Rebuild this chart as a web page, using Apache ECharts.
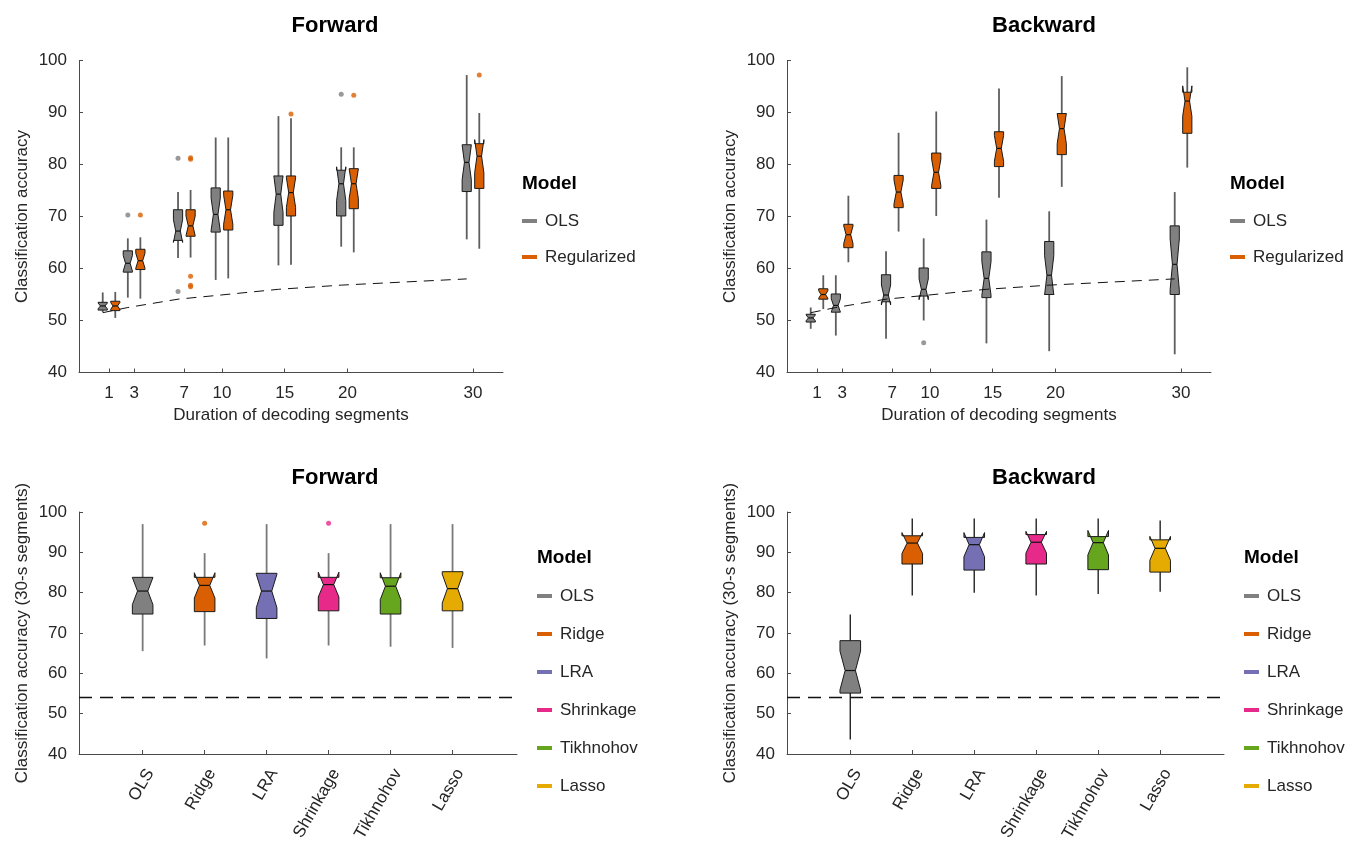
<!DOCTYPE html>
<html>
<head>
<meta charset="utf-8">
<title>Classification accuracy</title>
<script src="https://cdn.jsdelivr.net/npm/echarts@6/dist/echarts.min.js"></script>
<style>
html,body{margin:0;padding:0;background:#fff;}
#main{width:1350px;height:846px;}
</style>
</head>
<body>
<div id="main"></div>
<script>
// durations of decoding segments (s)
let durations = [1, 3, 7, 10, 15, 20, 30];
// box rows: [low whisker, q1, median, q3, high whisker]
let fwdOls = [[51.6,52.0,52.8,53.5,55.4],[54.4,59.3,61.0,63.4,65.8],[62.0,65.4,67.2,71.3,74.7],[57.8,67.0,70.4,75.5,85.2],[60.6,68.3,74.3,77.8,89.3],[64.2,70.1,76.3,78.9,83.3],[65.6,74.8,80.4,83.8,97.2]];
let fwdReg = [[50.5,51.9,52.8,53.7,55.5],[54.2,59.8,61.5,63.7,66.0],[62.1,66.2,68.2,71.3,75.1],[58.1,67.4,71.3,74.9,85.2],[60.7,70.1,74.6,77.8,88.9],[63.1,71.5,76.3,79.2,83.3],[63.8,75.4,81.6,84.0,89.9]];
let fwdOlsOut = [[3,70.3],[7,81.2],[7,55.6],[20,93.5]];
let fwdRegOut = [[3,70.3],[7,81.3],[7,81.0],[7,58.5],[7,56.8],[7,56.5],[15,89.7],[20,93.3],[30,97.2]];
let bwdOls = [[48.4,49.7,50.5,51.2,52.5],[47.1,51.6,52.9,55.1,58.7],[46.5,53.6,54.9,58.8,63.3],[50.0,54.7,56.0,60.1,65.8],[45.6,54.4,58.1,63.2,69.4],[44.1,55.0,58.7,65.2,71.0],[43.5,55.0,60.8,68.2,74.7]];
let bwdReg = [[52.2,54.1,55.0,56.1,58.7],[61.2,64.0,66.5,68.5,74.0],[67.1,71.7,74.7,77.9,86.1],[70.1,75.4,78.5,82.2,90.2],[73.6,79.6,83.1,86.3,94.6],[75.7,81.9,86.9,89.8,97.0],[79.4,86.0,92.2,93.9,98.7]];
let bwdOlsOut = [[10,45.7]];
let bwdRegOut = [];
let chanceLevel = [51.5,52.5,54.1,54.8,56.0,56.8,58.0];

// 30-s segments, per model
let models = ['OLS','Ridge','LRA','Shrinkage','Tikhnohov','Lasso'];
let fwd30 = [[65.5,74.7,80.4,83.8,97.0],[66.9,75.3,81.8,83.8,89.8],[63.7,73.6,80.4,84.8,97.0],[66.9,75.5,82.0,83.8,89.8],[66.6,74.7,81.6,83.7,97.0],[66.3,75.5,81.0,85.2,97.0]];
let fwd30Out = [['Ridge',97.2],['Shrinkage',97.2]];
let bwd30 = [[43.6,55.1,60.7,68.1,74.6],[79.3,87.1,92.3,94.1,98.4],[80.0,85.6,91.9,93.7,98.4],[79.3,87.1,92.5,94.4,98.4],[79.7,85.7,92.4,93.9,98.4],[80.2,85.1,91.0,93.1,97.9]];
let fwd30Chance = 54.1;
let bwd30Chance = 54.0;

let colors = {OLS:'#808080', Regularized:'#D95F02', Ridge:'#D95F02', LRA:'#7570B3', Shrinkage:'#E7298A', Tikhnohov:'#66A61E', Lasso:'#E6AB02'};
let N_SUBJ = 18;   // used for notch size
let DODGE = 0.5;
let FONT = '"Liberation Sans", Arial, Helvetica, sans-serif';
let AX = '#4a4a4a';
let TXT = '#262626';

function boxItem(halfW, dx, fill, whisk, wlw) {
	return function (params, api) {
		let x = api.coord([api.value(0) + dx, api.value(3)])[0];
		let y = function (v) { return api.coord([api.value(0), v])[1]; };
		let lo = api.value(1), q1 = api.value(2), md = api.value(3), q3 = api.value(4), hi = api.value(5);
		let nh = 1.57 * (q3 - q1) / Math.sqrt(N_SUBJ);
		let w = halfW, n = halfW * 0.5;
		let pts = [[x-w,y(q3)],[x-w,y(md+nh)],[x-n,y(md)],[x-w,y(md-nh)],[x-w,y(q1)],
			[x+w,y(q1)],[x+w,y(md-nh)],[x+n,y(md)],[x+w,y(md+nh)],[x+w,y(q3)]];
		return {
			type: 'group',
			children: [
				{type:'line', shape:{x1:x,y1:y(q3),x2:x,y2:y(hi)}, style:{stroke:whisk,lineWidth:wlw}},
				{type:'line', shape:{x1:x,y1:y(q1),x2:x,y2:y(lo)}, style:{stroke:whisk,lineWidth:wlw}},
				{type:'polygon', shape:{points:pts}, style:{fill:fill,stroke:'#1a1a1a',lineWidth:1}},
				{type:'line', shape:{x1:x-n,y1:y(md),x2:x+n,y2:y(md)}, style:{stroke:'#111',lineWidth:1.2}}
			]
		};
	};
}

function boxSeries(name, gi, rows, xs, dx, halfW, whisk, wlw) {
	return {
		type: 'custom', name: name, xAxisIndex: gi, yAxisIndex: gi,
		itemStyle: {color: colors[name]},
		renderItem: boxItem(halfW, dx, colors[name], whisk, wlw),
		encode: {x: 0, y: [1,2,3,4,5]},
		data: rows.map(function (r, i) { return [xs[i]].concat(r); }),
		z: 2
	};
}

function outSeries(name, gi, pts, dx) {
	return {
		type: 'scatter', name: name, xAxisIndex: gi, yAxisIndex: gi,
		symbol: 'circle', symbolSize: 5, itemStyle: {color: colors[name]},
		data: pts.map(function (p) { return [(typeof p[0] === 'string' ? models.indexOf(p[0]) + 1 : p[0]) + dx, p[1]]; }),
		z: 3
	};
}

function yAxis(gi, name) {
	return {
		type:'value', gridIndex:gi, min:40, max:100, interval:10,
		name:name, nameLocation:'middle', nameGap:48,
		nameTextStyle:{color:TXT, fontSize:17, fontFamily:FONT},
		axisLine:{show:true, onZero:false, lineStyle:{color:AX,width:1}},
		axisTick:{show:true, inside:true, length:4, lineStyle:{color:AX}},
		axisLabel:{color:TXT, fontSize:17, fontFamily:FONT, margin:12},
		splitLine:{show:false}
	};
}

function xDurAxis(gi) {
	return {
		type:'value', gridIndex:gi, min:-1.39, max:32.39,
		name:'Duration of decoding segments', nameLocation:'middle', nameGap:34,
		nameTextStyle:{color:TXT, fontSize:17, fontFamily:FONT},
		axisLine:{show:true, onZero:false, lineStyle:{color:AX,width:1}},
		axisTick:{show:true, inside:true, length:4, lineStyle:{color:AX}, customValues:durations},
		axisLabel:{color:TXT, fontSize:17, fontFamily:FONT, margin:12, customValues:durations},
		splitLine:{show:false}
	};
}

function xModelAxis(gi, mn, mx) {
	let pos = models.map(function (m, i) { return i + 1; });
	return {
		type:'value', gridIndex:gi, min:mn, max:mx,
		axisLine:{show:true, onZero:false, lineStyle:{color:AX,width:1}},
		axisTick:{show:true, inside:true, length:4, lineStyle:{color:AX}, customValues:pos},
		axisLabel:{color:TXT, fontSize:17, fontFamily:FONT, margin:12, rotate:60, verticalAlign:'top',
			customValues:pos,
			formatter:function (v) { return models[Math.round(v) - 1] || ''; }},
		splitLine:{show:false}
	};
}

function chanceLine(gi) {
	return {
		type:'line', xAxisIndex:gi, yAxisIndex:gi, symbol:'none', silent:true,
		lineStyle:{color:'#111', width:1, type:[10,7]},
		data: durations.map(function (d, i) { return [d - DODGE, chanceLevel[i]]; }),
		z: 4
	};
}

function chanceFlat(gi, lvl) {
	return {
		type:'line', xAxisIndex:gi, yAxisIndex:gi, data:[], silent:true,
		markLine:{symbol:'none', silent:true, label:{show:false},
			lineStyle:{color:'#111', width:1.3, type:[13,8]},
			data:[{yAxis:lvl}]},
		z: 1
	};
}

function legend(left, top, names, gap) {
	return {
		orient:'vertical', left:left, top:top, data:names, selectedMode:false, padding:0,
		icon:'rect', itemWidth:15, itemHeight:4, itemGap:gap,
		textStyle:{color:TXT, fontSize:17, fontFamily:FONT, lineHeight:20, padding:[0,0,0,3]}
	};
}

function label(text, x, y, size, bold, align) {
	return {
		type:'text', x:x, y:y, silent:true,
		style:{text:text, fill:'#000', font:(bold ? 'bold ' : '') + size + 'px ' + FONT,
			align:align || 'center', verticalAlign:'middle'}
	};
}

let chart = echarts.init(document.getElementById('main'), null, {renderer:'canvas'});
let modelRows = models.map(function (m, i) { return i + 1; });

let series = [
	boxSeries('OLS', 0, fwdOls, durations, -DODGE, 4.6, '#5e5e5e', 1.8),
	boxSeries('Regularized', 0, fwdReg, durations, DODGE, 4.6, '#5e5e5e', 1.8),
	outSeries('OLS', 0, fwdOlsOut, -DODGE),
	outSeries('Regularized', 0, fwdRegOut, DODGE),
	chanceLine(0),
	boxSeries('OLS', 1, bwdOls, durations, -DODGE, 4.6, '#5e5e5e', 1.8),
	boxSeries('Regularized', 1, bwdReg, durations, DODGE, 4.6, '#5e5e5e', 1.8),
	outSeries('OLS', 1, bwdOlsOut, -DODGE),
	outSeries('Regularized', 1, bwdRegOut, DODGE),
	chanceLine(1),
	chanceFlat(2, fwd30Chance),
	chanceFlat(3, bwd30Chance)
];
models.forEach(function (m, i) {
	series.push(boxSeries(m, 2, [fwd30[i]], [modelRows[i]], 0, 10.3, '#7a7a7a', 1.8));
	series.push(boxSeries(m, 3, [bwd30[i]], [modelRows[i]], 0, 10.3, '#222', 1.4));
});
series.push(outSeries('Ridge', 2, fwd30Out.slice(0, 1), 0));
series.push(outSeries('Shrinkage', 2, fwd30Out.slice(1), 0));

let option = {
	animation: false,
	backgroundColor: '#fff',
	textStyle: {fontFamily: FONT},
	grid: [
		{left:79, top:60.5, width:424, height:312},
		{left:787, top:60.5, width:424, height:312},
		{left:79, top:512, width:438, height:242},
		{left:787, top:512, width:437, height:242}
	],
	xAxis: [xDurAxis(0), xDurAxis(1), xModelAxis(2, -0.027, 7.04), xModelAxis(3, -0.021, 7.03)],
	yAxis: [yAxis(0, 'Classification accuracy'), yAxis(1, 'Classification accuracy'),
		yAxis(2, 'Classification accuracy (30-s segments)'), yAxis(3, 'Classification accuracy (30-s segments)')],
	legend: [
		legend(522, 211, ['OLS','Regularized'], 16),
		legend(1230, 211, ['OLS','Regularized'], 16),
		legend(537, 586, models, 18),
		legend(1244, 586, models, 18)
	],
	graphic: [
		label('Forward', 335, 26, 22, true),
		label('Backward', 1044, 26, 22, true),
		label('Forward', 335, 478, 22, true),
		label('Backward', 1044, 478, 22, true),
		label('Model', 522, 184, 19, true, 'left'),
		label('Model', 1230, 184, 19, true, 'left'),
		label('Model', 537, 558, 19, true, 'left'),
		label('Model', 1244, 558, 19, true, 'left')
	],
	series: series
};
chart.setOption(option);
</script>
</body>
</html>
